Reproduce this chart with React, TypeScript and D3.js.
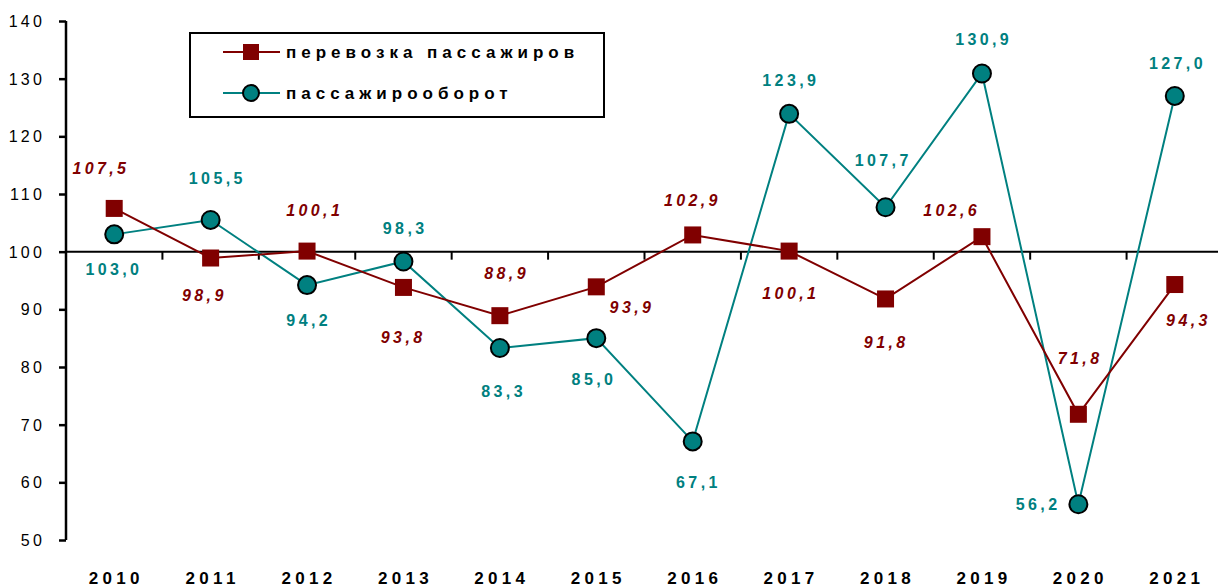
import React, { useEffect, useRef } from "react";
import * as d3 from "d3";

// years on the category axis
const years = ["2010", "2011", "2012", "2013", "2014", "2015", "2016", "2017", "2018", "2019", "2020", "2021"];

// перевозка пассажиров, % к предыдущему году
const transport = [107.5, 98.9, 100.1, 93.8, 88.9, 93.9, 102.9, 100.1, 91.8, 102.6, 71.8, 94.3];

// пассажирооборот, % к предыдущему году
const turnover = [103.0, 105.5, 94.2, 98.3, 83.3, 85.0, 67.1, 123.9, 107.7, 130.9, 56.2, 127.0];

const yTicks = [50, 60, 70, 80, 90, 100, 110, 120, 130, 140];

// label offsets (dx, dy) from each point
const transportLabelPos = [
  [-15, -40], [-8, 37], [6, -41], [-2, 50], [5, -42], [34, 21],
  [-2, -35], [0, 42], [-1, 43], [-32, -26], [0, -56], [12, 36],
];
const turnoverLabelPos = [
  [-2, 35], [5, -42], [0, 35], [0, -33], [2, 43], [-4, 41],
  [4, 41], [0, -33], [-4, -47], [0, -34], [-42, 0], [1, -33],
];

const MAROON = "#800000";
const TEAL = "#008080";
const FONT = "'Liberation Sans', Arial, sans-serif";

const fmt = (v: number) => v.toFixed(1).replace(".", ",");

const App = () => {
  const svgRef = useRef<SVGSVGElement>(null);

  useEffect(() => {
    const svg = d3.select(svgRef.current);
    svg.selectAll("*").remove();

    const x = d3.scaleBand().domain(years).range([66, 1223]);
    const y = d3.scaleLinear().domain([50, 140]).range([540, 21]);
    const cx = (i: number) => (x(years[i]) as number) + x.bandwidth() / 2;

    // y axis
    const yAxis = svg.append("g").attr("transform", "translate(66,0)")
      .call(d3.axisLeft(y).tickValues(yTicks).tickSize(7).tickPadding(14).tickFormat(d3.format("d")));
    yAxis.select(".domain").attr("stroke", "#000").attr("stroke-width", 2.5).attr("d", `M0,${y(140)}V${y(50)}`);
    yAxis.selectAll(".tick line").attr("stroke", "#000").attr("stroke-width", 2.5);
    yAxis.selectAll(".tick text")
      .attr("font-family", FONT).attr("font-size", 16).attr("fill", "#000")
      .attr("letter-spacing", 3.2).attr("dy", "0.35em");

    // category axis crossing at 100
    const y100 = y(100);
    svg.append("line").attr("x1", 66).attr("x2", 1218).attr("y1", y100).attr("y2", y100)
      .attr("stroke", "#000").attr("stroke-width", 2);
    svg.append("g").selectAll("line").data(years.slice(1)).join("line")
      .attr("x1", (d) => x(d) as number).attr("x2", (d) => x(d) as number)
      .attr("y1", y100).attr("y2", y100 + 8)
      .attr("stroke", "#000").attr("stroke-width", 2);

    // year labels
    svg.append("g").selectAll("text").data(years).join("text")
      .attr("x", (d, i) => cx(i) + 2).attr("y", 584)
      .attr("text-anchor", "middle").attr("font-family", FONT)
      .attr("font-size", 17).attr("font-weight", "bold").attr("letter-spacing", 4.3)
      .text((d) => d);

    const line = d3.line<number>().x((d, i) => cx(i)).y((d) => y(d));

    svg.append("path").datum(turnover).attr("d", line).attr("fill", "none")
      .attr("stroke", TEAL).attr("stroke-width", 2);
    svg.append("path").datum(transport).attr("d", line).attr("fill", "none")
      .attr("stroke", MAROON).attr("stroke-width", 2);

    // markers
    svg.append("g").selectAll("rect").data(transport).join("rect")
      .attr("x", (d, i) => cx(i) - 8.5).attr("y", (d) => y(d) - 8.5)
      .attr("width", 17).attr("height", 17).attr("fill", MAROON);
    svg.append("g").selectAll("circle").data(turnover).join("circle")
      .attr("cx", (d, i) => cx(i)).attr("cy", (d) => y(d)).attr("r", 9)
      .attr("fill", TEAL).attr("stroke", "#000").attr("stroke-width", 2);

    // data labels
    svg.append("g").selectAll("text").data(transport).join("text")
      .attr("x", (d, i) => cx(i) + transportLabelPos[i][0] + 1.7)
      .attr("y", (d, i) => y(d) + transportLabelPos[i][1])
      .attr("dy", "0.35em").attr("text-anchor", "middle")
      .attr("font-family", FONT).attr("font-size", 16).attr("font-weight", "bold")
      .attr("font-style", "italic").attr("letter-spacing", 3.4).attr("fill", MAROON)
      .text((d) => fmt(d));
    svg.append("g").selectAll("text").data(turnover).join("text")
      .attr("x", (d, i) => cx(i) + turnoverLabelPos[i][0] + 1.7)
      .attr("y", (d, i) => y(d) + turnoverLabelPos[i][1])
      .attr("dy", "0.35em").attr("text-anchor", "middle")
      .attr("font-family", FONT).attr("font-size", 16).attr("font-weight", "bold")
      .attr("letter-spacing", 3.4).attr("fill", TEAL)
      .text((d) => fmt(d));

    // legend
    const lg = svg.append("g");
    lg.append("rect").attr("x", 190).attr("y", 33).attr("width", 414).attr("height", 84)
      .attr("fill", "#fff").attr("stroke", "#000").attr("stroke-width", 2);
    const items = [
      { label: "перевозка пассажиров", color: MAROON, shape: "square" },
      { label: "пассажирооборот", color: TEAL, shape: "circle" },
    ];
    items.forEach((it, i) => {
      const ly = 52 + i * 41;
      lg.append("line").attr("x1", 223).attr("x2", 280).attr("y1", ly).attr("y2", ly)
        .attr("stroke", it.color).attr("stroke-width", 2);
      if (it.shape === "square") {
        lg.append("rect").attr("x", 243).attr("y", ly - 8).attr("width", 16).attr("height", 16).attr("fill", it.color);
      } else {
        lg.append("circle").attr("cx", 251).attr("cy", ly).attr("r", 8)
          .attr("fill", it.color).attr("stroke", "#000").attr("stroke-width", 2);
      }
      lg.append("text").attr("x", 286).attr("y", ly).attr("dy", "0.35em")
        .attr("font-family", FONT).attr("font-size", 17).attr("font-weight", "bold")
        .attr("letter-spacing", 5).text(it.label);
    });
  }, []);

  return (
    <svg ref={svgRef} width={1220} height={587}
      style={{ position: "absolute", left: 0, top: 0, background: "#fff" }} />
  );
};

export default App;
